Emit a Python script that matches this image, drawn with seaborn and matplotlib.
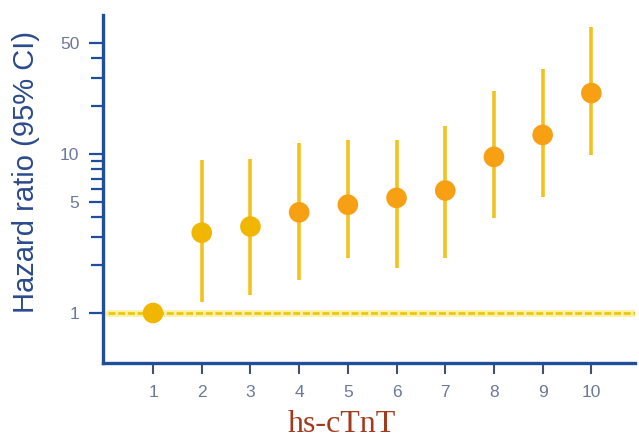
import numpy as np
import pandas as pd
import matplotlib
matplotlib.use("Agg")
import matplotlib.pyplot as plt
import seaborn as sns
from matplotlib.ticker import FixedLocator, NullFormatter

# ── data (hazard ratio, log scale) ──
categories = [1, 2, 3, 4, 5, 6, 7, 8, 9, 10]
hazard     = [1.0, 3.2, 3.5, 4.3, 4.8, 5.3, 5.9, 9.6, 13.2, 24.2]
ci_low     = [1.0, 1.17, 1.30, 1.61, 2.22, 1.92, 2.22, 3.96, 5.4, 9.9]
ci_high    = [1.0, 9.2, 9.3, 11.7, 12.2, 12.2, 15.0, 24.9, 34.3, 63.0]
group      = ["ref", "low", "low", "high", "high", "high", "high", "high", "high", "high"]

df = pd.DataFrame({"cat": categories, "hr": hazard,
                   "lo": ci_low, "hi": ci_high, "group": group})

NAVY = "#1F4E9A"
TICK_TXT = "#6B7899"
palette = {"ref": "#F0B600", "low": "#F0B600", "high": "#F8A014"}

sns.set_style("white")
plt.rcParams["font.family"] = ["Liberation Sans", "DejaVu Sans"]

fig = plt.figure(figsize=(6.39, 4.41), dpi=100)
ax = fig.add_axes([0.161, 0.177, 0.833, 0.789])

# reference line at HR = 1 (pale glow + dashed)
ax.axhline(1, xmin=0.01, xmax=1.0, color="#FBF1A8", lw=5, zorder=1)
ax.axhline(1, xmin=0.01, xmax=1.0, color="#EBC812", lw=2.0,
           dashes=(2.5, 1.0), zorder=2)

# confidence intervals
ax.vlines(df["cat"], df["lo"], df["hi"], color="#F4C21C", lw=2.6, zorder=3)

# point estimates
sns.scatterplot(data=df, x="cat", y="hr", hue="group", palette=palette,
                s=220, edgecolor="none", legend=False, zorder=4, ax=ax)

ax.set_yscale("log")
ax.set_ylim(0.485, 75)
ax.set_xlim(-0.03, 10.9)

ax.yaxis.set_major_locator(FixedLocator([1, 5, 10, 50]))
ax.set_yticklabels(["1", "5", "10", "50"])
minor = [2, 3, 4, 6, 7, 8, 9, 20, 30, 40]
ax.yaxis.set_minor_locator(FixedLocator(minor))
ax.yaxis.set_minor_formatter(NullFormatter())
ax.set_xticks(categories)
ax.set_xticklabels([str(c) for c in categories])

ax.tick_params(axis="y", which="major", direction="out", length=10, width=1.6,
               color=NAVY, labelcolor=TICK_TXT, labelsize=12.5, pad=7, left=True)
ax.tick_params(axis="y", which="minor", direction="out", length=9, width=1.6,
               color=NAVY, left=True)
ax.tick_params(axis="x", direction="out", length=8, width=1.5,
               color="#44506A", labelcolor=TICK_TXT, labelsize=12.5, pad=8, bottom=True)

for side in ["top", "right"]:
    ax.spines[side].set_visible(False)
for side in ["left", "bottom"]:
    ax.spines[side].set_color(NAVY)
    ax.spines[side].set_linewidth(2.4)

ax.set_xlabel("")
ax.set_ylabel("Hazard ratio (95% CI)", color="#2A4A8C", fontsize=21, labelpad=8)
ax.yaxis.set_label_coords(-0.118, 0.55)

fig.text(0.535, 0.038, "hs-cTnT", color="#A33A1E", fontsize=23,
         family=["Liberation Serif", "DejaVu Serif"], ha="center", va="center")

fig.savefig("out.png", dpi=100)
plt.close(fig)
